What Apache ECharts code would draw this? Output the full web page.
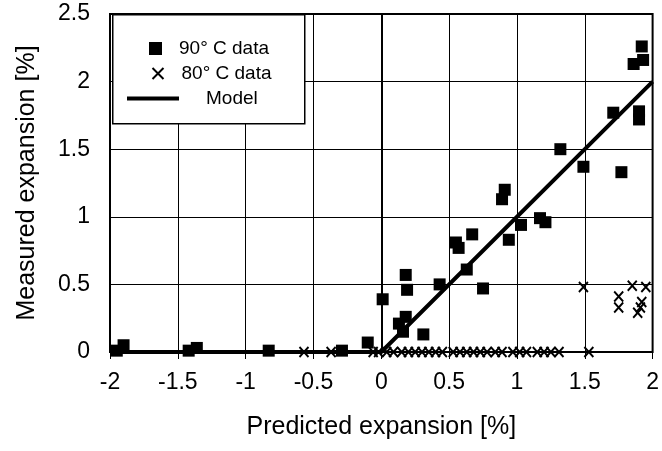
<!DOCTYPE html>
<html>
<head>
<meta charset="utf-8">
<script src="https://cdn.jsdelivr.net/npm/echarts@6/dist/echarts.min.js"></script>
<style>
    html, body { margin: 0; padding: 0; background: #fff; }
    #chart { width: 662px; height: 451px; }
</style>
</head>
<body>
<div id="chart"></div>
<script>
// 90 C data (predicted, measured)
const data90 = [
    [-1.95, 0.01], [-1.9, 0.05], [-1.42, 0.01], [-1.36, 0.03], [-0.83, 0.01],
    [-0.29, 0.01], [-0.1, 0.07], [0.01, 0.39], [0.13, 0.21], [0.16, 0.15],
    [0.18, 0.26], [0.18, 0.57], [0.19, 0.46], [0.31, 0.13], [0.43, 0.5],
    [0.55, 0.81], [0.57, 0.77], [0.63, 0.61], [0.67, 0.87], [0.75, 0.47],
    [0.89, 1.13], [0.91, 1.2], [0.94, 0.83], [1.03, 0.94], [1.17, 0.99],
    [1.21, 0.96], [1.32, 1.5], [1.49, 1.37], [1.71, 1.77], [1.77, 1.33],
    [1.86, 2.13], [1.9, 1.78], [1.9, 1.72], [1.92, 2.26], [1.93, 2.16]
];

// 80 C data
const data80 = [
    [-0.57, 0], [-0.37, 0], [-0.06, 0], [-0.02, 0], [0.04, 0], [0.09, 0],
    [0.15, 0], [0.2, 0], [0.25, 0], [0.3, 0], [0.35, 0], [0.4, 0], [0.45, 0],
    [0.53, 0], [0.58, 0], [0.63, 0], [0.68, 0], [0.73, 0], [0.78, 0],
    [0.84, 0], [0.89, 0], [0.97, 0], [1.02, 0], [1.07, 0], [1.15, 0],
    [1.2, 0], [1.25, 0], [1.31, 0], [1.53, 0],
    [1.49, 0.48], [1.85, 0.49], [1.95, 0.48], [1.75, 0.41], [1.75, 0.33],
    [1.92, 0.37], [1.91, 0.33], [1.89, 0.29]
];

// model: zero below 0, then measured = predicted
const modelLine = [[-2, 0], [0, 0], [2, 2]];

const seriesNames = ['90\u00b0 C data', '80\u00b0 C data', 'Model'];

const crossPath = 'path://M0,0L10,10M10,0L0,10';
const font = 'Liberation Sans, Arial, sans-serif';
const legendText = { color: '#000', fontSize: 19, fontFamily: font };

const chart = echarts.init(document.getElementById('chart'));

chart.setOption({
    animation: false,
    grid: {
        show: true,
        left: 110,
        right: 7,
        top: 14,
        bottom: 99,
        borderColor: '#000',
        borderWidth: 2,
        backgroundColor: 'transparent'
    },
    xAxis: {
        type: 'value',
        min: -2,
        max: 2,
        interval: 0.5,
        name: 'Predicted expansion [%]',
        nameLocation: 'middle',
        nameGap: 63,
        nameTextStyle: { color: '#000', fontSize: 25, fontFamily: font },
        axisLine: { show: true, onZero: false, lineStyle: { color: '#000', width: 1 } },
        axisTick: { show: true, length: 7, lineStyle: { color: '#000' } },
        axisLabel: { color: '#000', fontSize: 23, fontFamily: font, margin: 19 },
        splitLine: { show: true, lineStyle: { color: '#000', width: 1 } }
    },
    yAxis: {
        type: 'value',
        min: 0,
        max: 2.5,
        interval: 0.5,
        name: 'Measured expansion [%]',
        nameLocation: 'middle',
        nameGap: 70,
        nameTextStyle: { color: '#000', fontSize: 25, fontFamily: font },
        axisLine: { show: true, lineStyle: { color: '#000', width: 2 } },
        axisTick: { show: true, length: 7, lineStyle: { color: '#000' } },
        axisLabel: { color: '#000', fontSize: 23, fontFamily: font, margin: 20 },
        splitLine: { show: true, lineStyle: { color: '#000', width: 1 } }
    },
    graphic: [{
        type: 'rect',
        left: 112,
        top: 14,
        shape: { width: 192, height: 109 },
        style: { fill: '#fff', stroke: '#000', lineWidth: 1.5 },
        z: 10
    }],
    legend: [
        {
            data: [{ name: seriesNames[0], icon: 'rect' }],
            left: 149,
            top: 39,
            padding: 0,
            itemWidth: 13,
            itemHeight: 13,
            z: 20,
            textStyle: Object.assign({ padding: [0, 0, 0, 12] }, legendText)
        },
        {
            data: [{ name: seriesNames[1], icon: crossPath }],
            left: 150,
            top: 64,
            padding: 0,
            itemWidth: 11,
            itemHeight: 12,
            z: 20,
            itemStyle: { borderWidth: 2 },
            textStyle: Object.assign({ padding: [0, 0, 0, 13] }, legendText)
        },
        {
            data: [{ name: seriesNames[2], icon: 'rect' }],
            left: 127,
            top: 89,
            padding: 0,
            itemWidth: 52,
            itemHeight: 4,
            z: 20,
            textStyle: Object.assign({ padding: [0, 0, 0, 22] }, legendText)
        }
    ],
    series: [
        {
            name: seriesNames[2],
            type: 'line',
            data: modelLine,
            symbol: 'none',
            lineStyle: { color: '#000', width: 4 },
            itemStyle: { color: '#000' },
            z: 3
        },
        {
            name: seriesNames[0],
            type: 'scatter',
            data: data90,
            symbol: 'rect',
            symbolSize: 12,
            itemStyle: { color: '#000', opacity: 1 },
            z: 4
        },
        {
            name: seriesNames[1],
            type: 'scatter',
            data: data80,
            symbol: crossPath,
            symbolSize: [9, 10],
            itemStyle: { color: 'none', borderColor: '#000', borderWidth: 2, opacity: 1 },
            z: 4
        }
    ]
});
</script>
</body>
</html>
